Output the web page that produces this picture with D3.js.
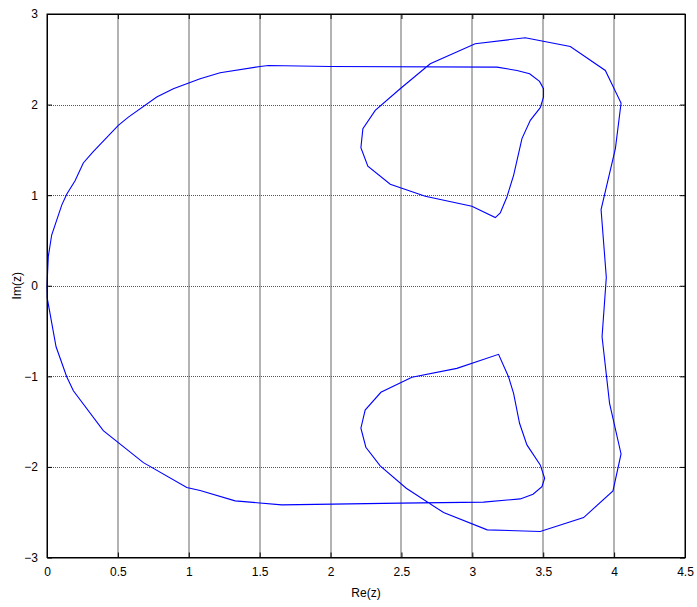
<!DOCTYPE html>
<html>
<head>
<meta charset="utf-8">
<script src="https://cdn.jsdelivr.net/npm/d3@7/dist/d3.min.js"></script>
<style>
  html, body { margin: 0; padding: 0; background: #fff; }
  svg text { font-family: "Liberation Sans", Arial, Helvetica, sans-serif; fill: #000; }
</style>
</head>
<body>
<svg id="chart" width="697" height="607"></svg>
<script>
// Boundary curve in the complex plane: real parts and imaginary parts, traced in order
const reZ = [
  0.000, 0.009, 0.033, 0.104, 0.139, 0.198, 0.256, 0.323, 0.503, 0.574, 0.774, 0.891,
  1.080, 1.221, 1.503, 1.562, 1.997, 3.174, 3.315, 3.404, 3.474, 3.502, 3.502, 3.479,
  3.409, 3.350, 3.291, 3.244, 3.197, 3.162, 2.997, 2.668, 2.421, 2.263, 2.214, 2.228,
  2.315, 2.491, 2.703, 3.020, 3.373, 3.691, 3.938, 4.049, 4.009, 3.908, 3.945, 3.915,
  3.968, 4.049, 3.992, 3.785, 3.479, 3.105, 2.797, 2.534, 2.350, 2.249, 2.214, 2.244,
  2.355, 2.574, 2.891, 3.185, 3.255, 3.291, 3.333, 3.385, 3.479, 3.510, 3.491, 3.428,
  3.338, 3.079, 2.491, 1.656, 1.327, 1.080, 0.986, 0.680, 0.397, 0.186, 0.139, 0.064,
  0.002, 0.000
];
const imZ = [
  0.000, 0.320, 0.560, 0.890, 1.010, 1.160, 1.355, 1.476, 1.771, 1.862, 2.083, 2.175,
  2.286, 2.352, 2.421, 2.432, 2.421, 2.413, 2.377, 2.341, 2.256, 2.175, 2.083, 1.966,
  1.826, 1.624, 1.219, 0.980, 0.804, 0.753, 0.878, 0.988, 1.120, 1.319, 1.525, 1.734,
  1.936, 2.175, 2.451, 2.671, 2.738, 2.642, 2.377, 2.017, 1.514, 0.841, 0.092, -0.563,
  -1.298, -1.857, -2.265, -2.559, -2.713, -2.695, -2.504, -2.235, -1.989, -1.783, -1.573, -1.372,
  -1.176, -1.011, -0.912, -0.757, -1.004, -1.187, -1.518, -1.757, -1.978, -2.125, -2.217, -2.301,
  -2.353, -2.389, -2.400, -2.419, -2.375, -2.261, -2.228, -1.953, -1.600, -1.159, -1.004, -0.674,
  -0.140, 0.000
];

// Tick values and labels
const xTicks = [0, 0.5, 1, 1.5, 2, 2.5, 3, 3.5, 4, 4.5];
const yTicks = [-3, -2, -1, 0, 1, 2, 3];
const xLabel = "Re(z)";
const yLabel = "Im(z)";

const svg = d3.select("#chart");
const plot = { left: 47, top: 14, right: 685, bottom: 557.5 };

const x = d3.scaleLinear().domain([0, 4.5]).range([plot.left, plot.right]);
const y = d3.scaleLinear().domain([-3, 3]).range([plot.bottom, plot.top]);

// Grid lines
const grid = svg.append("g");
grid.selectAll("line.vg").data(xTicks.slice(1, -1)).enter().append("line")
  .attr("x1", d => Math.round(x(d))).attr("x2", d => Math.round(x(d)))
  .attr("y1", plot.top).attr("y2", plot.bottom)
  .attr("stroke", "#a0a0a0").attr("stroke-width", 1.6);
grid.selectAll("line.hg").data(yTicks.slice(1, -1)).enter().append("line")
  .attr("x1", plot.left).attr("x2", plot.right)
  .attr("y1", d => Math.round(y(d)) + 0.5).attr("y2", d => Math.round(y(d)) + 0.5)
  .attr("stroke", "#555").attr("stroke-width", 1).attr("stroke-dasharray", "1,1");

// Curve
const pts = reZ.map((r, i) => [r, imZ[i]]);
svg.append("path")
  .datum(pts)
  .attr("d", d3.line().x(d => x(d[0])).y(d => y(d[1])))
  .attr("fill", "none").attr("stroke", "#0000ff").attr("stroke-width", 1.1);

// Axes with inward ticks on all four sides
const tickLen = 5;
const axB = svg.append("g").attr("transform", `translate(0,${plot.bottom})`)
  .call(d3.axisBottom(x).tickValues(xTicks).tickFormat(d3.format("")).tickSizeInner(-tickLen).tickSizeOuter(0).tickPadding(10));
const axT = svg.append("g").attr("transform", `translate(0,${plot.top})`)
  .call(d3.axisTop(x).tickValues(xTicks).tickFormat("").tickSizeInner(-tickLen).tickSizeOuter(0));
const axL = svg.append("g").attr("transform", `translate(${plot.left},0)`)
  .call(d3.axisLeft(y).tickValues(yTicks).tickFormat(d3.format("")).tickSizeInner(-tickLen).tickSizeOuter(0).tickPadding(9));
const axR = svg.append("g").attr("transform", `translate(${plot.right},0)`)
  .call(d3.axisRight(y).tickValues(yTicks).tickFormat("").tickSizeInner(-tickLen).tickSizeOuter(0));

[axB, axT, axL, axR].forEach(a => {
  a.select(".domain").attr("stroke", "#000");
  a.selectAll(".tick line").attr("stroke", "#000");
  a.selectAll("text").style("font-size", "12px").attr("fill", "#000");
});

// Box
svg.append("rect")
  .attr("x", plot.left).attr("y", plot.top)
  .attr("width", plot.right - plot.left).attr("height", plot.bottom - plot.top)
  .attr("fill", "none").attr("stroke", "#000").attr("stroke-width", 1);

// Axis titles
svg.append("text").attr("x", (plot.left + plot.right) / 2).attr("y", 597)
  .attr("text-anchor", "middle").style("font-size", "12px").text(xLabel);
svg.append("text")
  .attr("transform", `translate(21,${(plot.top + plot.bottom) / 2}) rotate(-90)`)
  .attr("text-anchor", "middle").style("font-size", "12px").text(yLabel);
</script>
</body>
</html>
